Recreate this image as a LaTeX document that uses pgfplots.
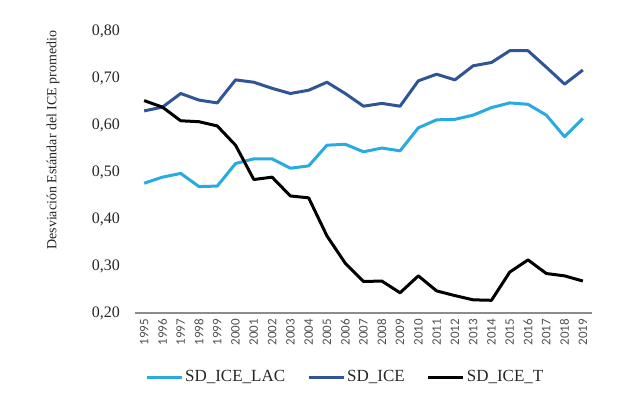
\documentclass[border=0pt]{standalone}
\usepackage{fontspec}
\setmainfont{Liberation Serif}
\newfontfamily\xfont{Carlito}
\usepackage{pgfplots}
\pgfplotsset{compat=1.18}
\definecolor{lacblue}{RGB}{41,171,226}
\definecolor{iceblue}{RGB}{47,85,151}
\definecolor{axgray}{RGB}{140,140,140}
\definecolor{labgray}{RGB}{80,80,80}
\begin{document}
\begin{tikzpicture}
\path[use as bounding box] (0,0) rectangle (640pt,395pt);
\begin{axis}[
  at={(135pt,82pt)}, anchor=south west,
  scale only axis, width=457pt, height=282pt,
  xmin=1994.5, xmax=2019.5, ymin=0.2, ymax=0.8,
  axis x line*=bottom, axis y line*=left,
  y axis line style={draw=none},
  x axis line style={draw=axgray, line width=1.5pt},
  major tick length=0pt,
  xtick={1995,1996,1997,1998,1999,2000,2001,2002,2003,2004,2005,2006,2007,2008,2009,2010,2011,2012,2013,2014,2015,2016,2017,2018,2019},
  xticklabels={1995,1996,1997,1998,1999,2000,2001,2002,2003,2004,2005,2006,2007,2008,2009,2010,2011,2012,2013,2014,2015,2016,2017,2018,2019},
  ytick={0.2,0.3,0.4,0.5,0.6,0.7,0.8},
  yticklabels={{0,20},{0,30},{0,40},{0,50},{0,60},{0,70},{0,80}},
  xticklabel style={font=\xfont\fontsize{13}{15}\selectfont, text=labgray, rotate=90, anchor=east, inner xsep=6pt, inner ysep=0pt},
  yticklabel style={font=\fontsize{16}{19}\selectfont, text=black!85, anchor=east, inner xsep=0pt, xshift=-15pt},
  ylabel={Desviación Estándar del ICE promedio},
  ylabel style={font=\fontsize{14}{16}\selectfont, text=black!85, at={(axis description cs:-0.1794,0.613)}, anchor=center, rotate=0},
  legend columns=3,
  legend style={draw=none, fill=none, font=\fontsize{17}{20}\selectfont, text=black!85, at={(axis description cs:0.46,-0.227)}, anchor=center, /tikz/every even column/.append style={column sep=20pt}},
  legend image code/.code={\draw[#1, line width=3pt] (0pt,0pt) -- (35pt,0pt);},
  every axis plot/.append style={line width=3pt, line join=round, no markers},
]
\addplot[color=lacblue] coordinates {
(1995,0.476) (1996,0.489) (1997,0.497) (1998,0.469) (1999,0.470) (2000,0.518) (2001,0.528) (2002,0.528) (2003,0.508) (2004,0.513) (2005,0.557) (2006,0.559) (2007,0.543) (2008,0.551) (2009,0.545) (2010,0.594) (2011,0.611) (2012,0.612) (2013,0.621) (2014,0.637) (2015,0.647) (2016,0.644) (2017,0.621) (2018,0.575) (2019,0.614)};
\addlegendentry{SD\_ICE\_LAC}
\addplot[color=iceblue] coordinates {
(1995,0.630) (1996,0.638) (1997,0.667) (1998,0.653) (1999,0.647) (2000,0.696) (2001,0.691) (2002,0.678) (2003,0.667) (2004,0.674) (2005,0.691) (2006,0.667) (2007,0.640) (2008,0.646) (2009,0.640) (2010,0.694) (2011,0.708) (2012,0.696) (2013,0.726) (2014,0.733) (2015,0.758) (2016,0.758) (2017,0.723) (2018,0.687) (2019,0.717)};
\addlegendentry{SD\_ICE}
\addplot[color=black] coordinates {
(1995,0.652) (1996,0.638) (1997,0.609) (1998,0.607) (1999,0.598) (2000,0.557) (2001,0.484) (2002,0.489) (2003,0.449) (2004,0.445) (2005,0.364) (2006,0.306) (2007,0.267) (2008,0.268) (2009,0.243) (2010,0.279) (2011,0.247) (2012,0.237) (2013,0.228) (2014,0.227) (2015,0.287) (2016,0.313) (2017,0.284) (2018,0.279) (2019,0.268)};
\addlegendentry{SD\_ICE\_T}
\end{axis}
\end{tikzpicture}
\end{document}
